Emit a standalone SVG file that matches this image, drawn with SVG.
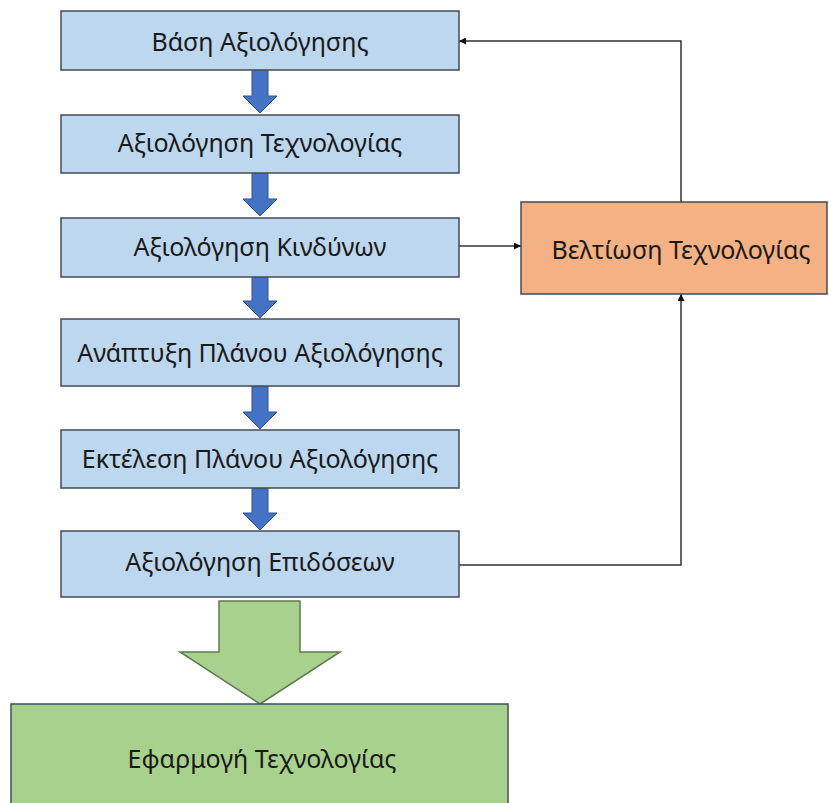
<svg xmlns="http://www.w3.org/2000/svg" width="829" height="803" viewBox="0 0 829 803">
  <style>
    .step rect { fill: #BDD7EE; stroke: #444c55; stroke-width: 1.5; }
    .improve rect { fill: #F4B183; stroke: #444c55; stroke-width: 1.5; }
    .apply rect { fill: #A9D18E; stroke: #444c55; stroke-width: 1.5; }
    text { font-family: "Noto Sans", "Open Sans", sans-serif; font-size: 25px; fill: #1a1a1a; text-anchor: middle; }
    .flow { fill: #4472C4; stroke: #2F528F; stroke-width: 1; }
    .big { fill: #A9D18E; stroke: #5f7a52; stroke-width: 1.5; }
    .link { fill: none; stroke: #333; stroke-width: 1.5; }
  </style>
  <defs>
    <marker id="tip" viewBox="0 0 10 10" refX="10" refY="5" markerWidth="7" markerHeight="7" markerUnits="userSpaceOnUse" orient="auto">
      <path d="M0,0 L10,5 L0,10 Z" fill="#111"/>
    </marker>
  </defs>
  <rect width="829" height="803" fill="#fff"/>

  <!-- block arrows between the steps -->
  <g id="flow-arrows">
    <path class="flow" d="M252,70 H268 V96 H277 L260,113 L243,96 H252 Z"/>
    <path class="flow" d="M252,173 H268 V199 H277 L260,216 L243,199 H252 Z"/>
    <path class="flow" d="M252,277 H268 V301 H277 L260,318 L243,301 H252 Z"/>
    <path class="flow" d="M252,386 H268 V412 H277 L260,429 L243,412 H252 Z"/>
    <path class="flow" d="M252,488 H268 V513 H277 L260,530 L243,513 H252 Z"/>
    <path class="big" d="M219,601 H300 V652 H340 L260,704 L180,652 H219 Z"/>
  </g>

  <!-- feedback connectors -->
  <g id="connectors">
    <path class="link" d="M459,246 H521" marker-end="url(#tip)"/>
    <path class="link" d="M459,565 H681 V294" marker-end="url(#tip)"/>
    <path class="link" d="M681,202 V41 H459" marker-end="url(#tip)"/>
  </g>

  <g id="basis" class="step">
    <rect x="61" y="11" width="398" height="59"/>
    <text x="260" y="51">Βάση Αξιολόγησης</text>
  </g>
  <g id="tech-assessment" class="step">
    <rect x="61" y="115" width="398" height="58"/>
    <text x="260" y="152">Αξιολόγηση Τεχνολογίας</text>
  </g>
  <g id="risk-assessment" class="step">
    <rect x="61" y="218" width="398" height="59"/>
    <text x="260" y="256">Αξιολόγηση Κινδύνων</text>
  </g>
  <g id="plan-development" class="step">
    <rect x="61" y="319" width="398" height="67"/>
    <text x="260" y="362">Ανάπτυξη Πλάνου Αξιολόγησης</text>
  </g>
  <g id="plan-execution" class="step">
    <rect x="61" y="430" width="398" height="58"/>
    <text x="260" y="468">Εκτέλεση Πλάνου Αξιολόγησης</text>
  </g>
  <g id="performance" class="step">
    <rect x="61" y="531" width="398" height="66"/>
    <text x="260" y="571">Αξιολόγηση Επιδόσεων</text>
  </g>
  <g id="improvement" class="improve">
    <rect x="521" y="202" width="306" height="92"/>
    <text x="681" y="259">Βελτίωση Τεχνολογίας</text>
  </g>
  <g id="adoption" class="apply">
    <rect x="11" y="704" width="497" height="110"/>
    <text x="262" y="768">Εφαρμογή Τεχνολογίας</text>
  </g>
</svg>
